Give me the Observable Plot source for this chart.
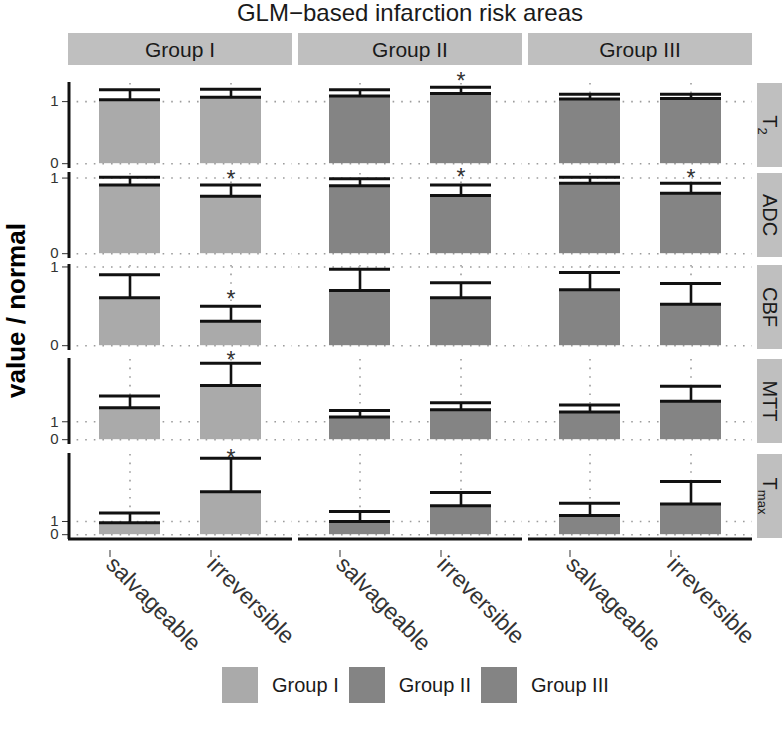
<!DOCTYPE html>
<html><head><meta charset="utf-8">
<script src="https://cdn.jsdelivr.net/npm/d3@7"></script>
<script src="https://cdn.jsdelivr.net/npm/@observablehq/plot@0.6"></script>
<style>
body{margin:0;background:#fff;font-family:"Liberation Sans",Arial,Helvetica,sans-serif;}
#chart{position:relative;width:783px;height:731px;overflow:hidden;background:#fff;}
#chart > svg{position:absolute;left:0;overflow:visible;}
#legend{position:absolute;left:222px;top:667px;}
#legend .lg-swatch{margin-right:10px !important;font-size:20px !important;color:#1a1a1a;}
#legend .lg-swatch > svg{margin-right:14px !important;}
#legend .lg-swatches{font-family:"Liberation Sans",Arial,sans-serif !important;font-size:20px !important;margin:0 !important;}
</style></head><body><div id="chart"></div>
<script>
// ---- data ----
const groups = ["Group I", "Group II", "Group III"];
const areas = ["salvageable", "irreversible"];
const measures = ["T2", "ADC", "CBF", "MTT", "Tmax"];
const groupColors = ["#aaaaaa", "#848484", "#848484"];
const yTicks = [0, 1];
// order: GI salv, GI irr, GII salv, GII irr, GIII salv, GIII irr
const meanT2   = [1.03, 1.07, 1.09, 1.13, 1.04, 1.05];
const upperT2  = [1.19, 1.20, 1.19, 1.23, 1.12, 1.12];
const meanADC  = [0.91, 0.76, 0.90, 0.77, 0.93, 0.80];
const upperADC = [1.01, 0.91, 0.99, 0.91, 1.01, 0.93];
const meanCBF  = [0.61, 0.31, 0.70, 0.61, 0.71, 0.525];
const upperCBF = [0.90, 0.50, 0.97, 0.80, 0.93, 0.79];
const meanMTT  = [1.78, 3.02, 1.26, 1.67, 1.54, 2.15];
const upperMTT = [2.43, 4.26, 1.63, 2.06, 1.94, 2.98];
const meanTmax = [0.90, 3.26, 1.00, 2.20, 1.45, 2.33];
const upperTmax= [1.65, 5.79, 1.75, 3.20, 2.38, 4.03];
// significance stars
const starMeasures = ["T2", "ADC", "ADC", "ADC", "CBF", "MTT", "Tmax"];
const starGroups   = ["Group II", "Group I", "Group II", "Group III", "Group I", "Group I", "Group I"];
const starAreas    = ["irreversible", "irreversible", "irreversible", "irreversible", "irreversible", "irreversible", "irreversible"];
const starValues   = [1.42, 1.06, 1.08, 1.07, 0.66, 4.75, 6.22];

const meanBy = {T2: meanT2, ADC: meanADC, CBF: meanCBF, MTT: meanMTT, Tmax: meanTmax};
const upperBy = {T2: upperT2, ADC: upperADC, CBF: upperCBF, MTT: upperMTT, Tmax: upperTmax};

// ---- layout ----
const W = 783, ML = 68, MR = 31, MT = 10;
const panelTops = [83, 173, 265, 359, 454];
const panelH = 84;
const font = '"Liberation Sans", Arial, Helvetica, sans-serif';
const chart = document.getElementById("chart");

measures.forEach((m, r) => {
  const last = r === measures.length - 1;
  const MB = last ? 130 : 10;
  const data = d3.range(6).map(i => ({
    group: groups[Math.floor(i / 2)], area: areas[i % 2],
    mean: meanBy[m][i], upper: upperBy[m][i]
  }));
  const stars = starMeasures.map((s, i) => ({s, group: starGroups[i], area: starAreas[i], value: starValues[i]})).filter(d => d.s === m);
  const M = d3.max(data, d => d.upper);
  const marks = [
    Plot.gridX({stroke: "#9c9c9c", strokeOpacity: 1, strokeWidth: 1.6, strokeDasharray: "1.6,7"}),
    Plot.ruleY(yTicks, {stroke: "#9c9c9c", strokeWidth: 1.6, strokeDasharray: "1.6,7"}),
    Plot.barY(data, {fx: "group", x: "area", y: "mean", fill: "group"}),
    Plot.ruleX(data, {fx: "group", x: "area", y1: "mean", y2: "upper", stroke: "#111", strokeWidth: 2.6}),
    Plot.tickY(data, {fx: "group", x: "area", y: "mean", stroke: "#111", strokeWidth: 3}),
    Plot.tickY(data, {fx: "group", x: "area", y: "upper", stroke: "#111", strokeWidth: 3}),
    Plot.text(stars, {fx: "group", x: "area", y: "value", text: () => "*", fontSize: 23, fill: "#333", dy: 6, lineAnchor: "middle"}),
    Plot.axisY(yTicks, {tickFormat: d3.format("d"), tickSize: 6, tickPadding: 4, fontSize: 15, label: null, color: "#333"})
  ];
  if (last) marks.push(Plot.axisX({tickRotate: 45, fontSize: 23, tickSize: 7, tickPadding: 3, dx: -20, dy: 12, label: null, color: "#333"}));
  const plot = Plot.plot({
    width: W, height: panelH + MT + MB,
    marginLeft: ML, marginRight: MR, marginTop: MT, marginBottom: MB,
    style: {background: "transparent", overflow: "visible", fontFamily: font},
    fx: {domain: groups, paddingInner: 6 / 230, paddingOuter: 0, axis: null, label: null},
    x: {domain: areas, paddingInner: 0.4, paddingOuter: 0.3, axis: last ? undefined : null, label: null},
    y: {domain: [-0.05 * M, 1.05 * M], label: null},
    color: {domain: groups, range: groupColors},
    marks
  });
  plot.style.top = (panelTops[r] - MT) + "px";
  chart.appendChild(plot);

  const svg = d3.select(plot);
  const fx = plot.scale("fx");
  const bw = fx.bandwidth;
  const g = svg.append("g").attr("font-family", font);
  // left axis line
  g.append("line").attr("x1", fx.apply(groups[0]) + 1).attr("x2", fx.apply(groups[0]) + 1)
    .attr("y1", MT - 1).attr("y2", MT + panelH + 1).attr("stroke", "#111").attr("stroke-width", 3);
  // right strip
  const sx = W - MR + 5;
  g.append("rect").attr("x", sx).attr("y", MT).attr("width", 25).attr("height", panelH).attr("fill", "#bfbfbf");
  const st = g.append("text").attr("transform", `translate(${sx + 12.5},${MT + panelH / 2}) rotate(90)`)
    .attr("text-anchor", "middle").attr("dominant-baseline", "central").attr("font-size", 20).attr("fill", "#1a1a1a");
  if (m === "T2") { st.append("tspan").text("T"); st.append("tspan").attr("font-size", 13).attr("dy", 7).text("2"); }
  else if (m === "Tmax") { st.append("tspan").text("T"); st.append("tspan").attr("font-size", 13).attr("dy", 7).text("max"); }
  else st.text(m);
  if (r === 0) {
    // column strips
    groups.forEach(gr => {
      g.append("rect").attr("x", fx.apply(gr)).attr("y", MT - 50).attr("width", bw).attr("height", 32).attr("fill", "#bfbfbf");
      g.append("text").attr("x", fx.apply(gr) + bw / 2).attr("y", MT - 34).attr("text-anchor", "middle")
        .attr("dominant-baseline", "central").attr("font-size", 21).attr("fill", "#1a1a1a").text(gr);
    });
    // title
    g.append("text").attr("x", ML + (W - ML - MR) / 2).attr("y", MT - 62).attr("text-anchor", "middle")
      .attr("font-size", 24).attr("fill", "#1a1a1a").text("GLM\u2212based infarction risk areas");
    // y label
    const cy = (panelTops[0] + panelTops[4] + panelH) / 2 - panelTops[0] + MT;
    g.append("text").attr("transform", `translate(25,${cy}) rotate(-90)`).attr("text-anchor", "middle")
      .attr("font-size", 26).attr("font-weight", "bold").attr("fill", "#000").text("value / normal");
  }
  if (last) {
    groups.forEach(gr => {
      g.append("line").attr("x1", fx.apply(gr)).attr("x2", fx.apply(gr) + bw)
        .attr("y1", MT + panelH + 1).attr("y2", MT + panelH + 1).attr("stroke", "#111").attr("stroke-width", 3);
    });
  }
});

// legend
const lg = document.createElement("div");
lg.id = "legend";
lg.appendChild(Plot.legend({color: {type: "ordinal", domain: groups, range: groupColors}, swatchSize: 36, className: "lg"}));
chart.appendChild(lg);
</script></body></html>
